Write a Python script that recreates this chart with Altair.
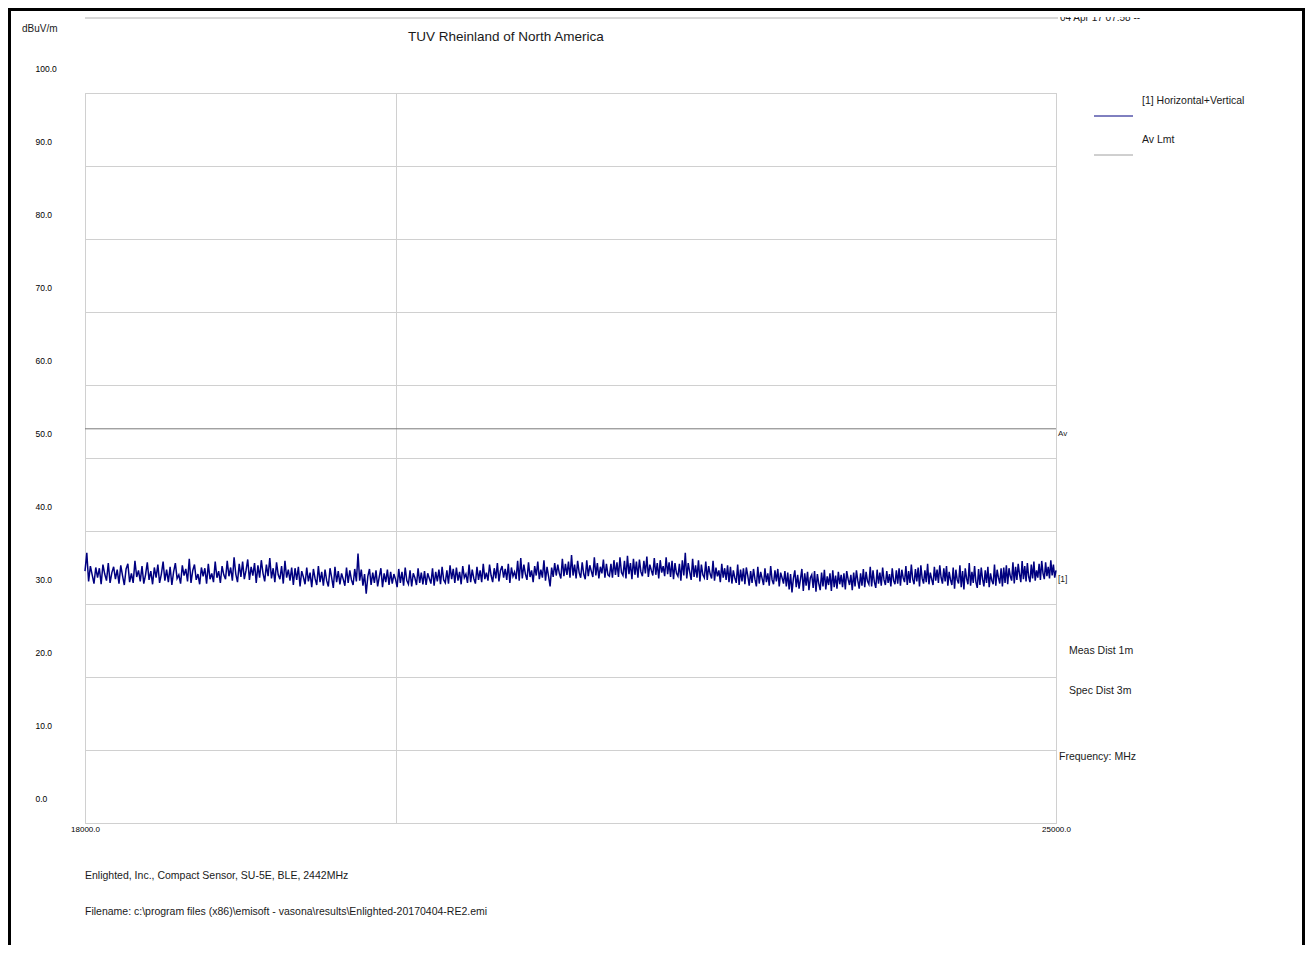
import altair as alt
import numpy as np
import pandas as pd

FONT = "Liberation Sans"

# Measured level of trace [1] (dBuV/m), read across the sweep 18000-25000 MHz
levels = [
    34.5, 37.0, 33.1, 35.2, 34.0, 32.8, 35.0, 33.6, 34.9, 32.7, 35.4, 34.1, 33.2, 35.6, 32.9, 34.3, 35.1, 33.4, 34.7, 32.8,
    35.3, 33.9, 32.6, 34.8, 35.5, 33.0, 34.2, 32.9, 35.9, 33.7, 34.6, 33.1, 35.2, 32.8, 34.0, 35.7, 33.3, 34.5, 32.7, 35.0,
    33.6, 35.4, 32.9, 34.1, 35.8, 33.2, 34.7, 33.0, 35.1, 32.6, 34.4, 35.6, 33.5, 34.0, 32.8, 35.3, 33.9, 34.8, 33.1, 36.2,
    32.9, 34.6, 35.4, 33.3, 34.1, 32.7, 35.0, 33.8, 34.9, 32.8, 35.5, 33.4, 34.2, 33.0, 35.8, 33.6, 34.5, 32.9, 35.2, 34.0,
    33.4, 35.9, 33.8, 35.0, 33.2, 36.4, 34.1, 33.0, 35.5, 33.7, 35.8, 33.4, 34.6, 36.1, 33.3, 35.1, 33.9, 35.6, 32.9, 35.3,
    33.6, 36.0, 34.2, 33.1, 35.4, 33.8, 36.3, 33.5, 34.9, 33.0, 35.7, 34.0, 33.4, 35.2, 32.8, 35.9, 33.6, 34.7, 33.2, 35.0,
    32.6, 34.9, 33.3, 35.1, 32.4, 34.5, 33.7, 32.7, 35.0, 33.1, 34.3, 32.3, 34.8, 33.5, 32.6, 35.2, 33.0, 34.4, 32.5, 34.7,
    33.2, 32.4, 34.9, 33.6, 32.2, 35.1, 33.0, 34.5, 32.7, 34.2, 33.4, 32.5, 35.0, 32.9, 34.6, 33.3, 32.6, 34.8, 33.1, 36.9,
    33.2, 34.7, 32.5, 34.1, 31.4, 33.8, 34.8, 32.6, 34.3, 32.9, 34.6, 32.4, 33.7, 34.9, 32.3, 34.2, 33.0, 34.7, 32.6, 34.4,
    32.8, 34.1, 33.4, 32.3, 34.8, 32.9, 34.4, 32.5, 35.0, 33.2, 32.7, 34.6, 32.4, 34.2, 33.6, 32.6, 34.9, 32.9, 34.3, 32.7,
    34.5, 32.6, 34.2, 33.5, 32.8, 34.9, 32.5, 34.4, 33.1, 34.7, 32.7, 35.1, 33.3, 32.9, 34.6, 32.8, 35.3, 33.4, 34.8, 32.9,
    35.0, 33.2, 34.4, 32.7, 35.2, 33.6, 34.1, 32.9, 35.4, 33.0, 34.7, 33.5, 32.8, 35.1, 33.3, 34.6, 33.0, 35.5, 33.4, 34.3,
    33.2, 35.4, 33.9, 33.0, 34.9, 33.5, 35.6, 33.1, 34.6, 35.2, 33.6, 34.8, 33.3, 35.5, 32.9, 35.0, 33.8, 34.4, 33.4, 35.9,
    33.2, 36.3, 33.5, 35.4, 34.1, 33.3, 35.7, 33.7, 34.6, 33.0, 35.2, 33.9, 35.8, 33.4, 34.7, 33.6, 36.0, 33.2, 35.1, 33.8,
    32.4, 35.0, 33.7, 35.6, 33.9, 35.4, 34.2, 33.5, 36.2, 33.8, 35.5, 34.0, 35.8, 33.6, 36.7, 33.9, 35.4, 33.5, 35.9, 34.3,
    33.6, 35.7, 34.1, 33.4, 36.0, 33.8, 35.3, 34.5, 33.7, 36.4, 33.9, 35.6, 33.5, 35.1, 34.2, 36.1, 33.6, 35.5, 34.0, 33.8,
    35.5, 33.6, 36.0, 34.0, 35.7, 33.7, 36.4, 34.3, 33.9, 35.9, 33.5, 36.6, 34.1, 35.6, 33.4, 36.2, 34.0, 35.8, 33.6, 36.1,
    34.4, 33.8, 35.9, 34.2, 36.5, 33.7, 35.4, 34.6, 33.9, 36.3, 34.0, 35.6, 33.5, 36.0, 34.3, 35.2, 33.8, 36.4, 34.1, 35.7,
    33.7, 35.9, 33.4, 35.6, 34.2, 33.8, 35.5, 33.2, 36.0, 33.9, 37.0, 33.5, 35.6, 34.4, 33.3, 36.2, 33.7, 35.3, 33.6, 36.0,
    33.1, 35.4, 34.0, 33.6, 35.8, 33.3, 35.2, 34.1, 33.5, 35.9, 33.2, 35.0, 33.8, 34.6, 33.0, 35.5, 33.6, 34.9, 33.3, 35.3,
    33.0, 35.1, 32.8, 34.6, 33.6, 32.9, 35.4, 32.6, 34.7, 33.1, 34.9, 32.7, 35.0, 33.9, 32.5, 34.5, 32.9, 34.8, 33.4, 32.4,
    35.1, 32.8, 34.4, 33.5, 32.6, 34.9, 33.0, 34.2, 32.5, 35.2, 33.3, 32.7, 34.6, 33.1, 34.8, 32.4, 34.3, 33.6, 32.8, 34.5,
    32.4, 34.3, 32.0, 34.1, 31.6, 33.5, 34.6, 32.3, 34.0, 32.1, 33.4, 34.8, 31.8, 34.2, 32.5, 34.4, 31.9, 33.6, 34.0, 32.2,
    34.5, 31.7, 34.1, 32.8, 31.9, 34.3, 32.4, 34.7, 32.0, 33.8, 32.6, 34.2, 31.8, 34.6, 32.3, 33.9, 32.1, 34.4, 32.7, 34.0,
    32.3, 34.2, 32.0, 34.5, 33.4, 32.6, 34.0, 31.9, 34.3, 32.4, 34.6, 33.2, 32.1, 34.2, 32.5, 34.8, 32.3, 34.4, 33.1, 32.7,
    35.1, 32.4, 34.6, 33.0, 32.2, 34.7, 32.8, 34.3, 32.5, 35.0, 33.3, 32.6, 34.5, 32.9, 34.1, 32.4, 34.9, 33.2, 32.7, 34.6,
    32.8, 34.9, 32.5, 34.7, 33.6, 33.0, 35.2, 32.6, 34.5, 32.9, 35.4, 33.4, 32.7, 34.8, 33.1, 35.0, 32.4, 35.3, 33.5, 32.8,
    34.6, 33.0, 35.5, 32.7, 34.3, 33.4, 32.6, 35.1, 33.2, 34.7, 32.9, 35.3, 33.6, 32.8, 34.9, 33.1, 35.2, 32.5, 34.4, 33.3,
    32.6, 35.0, 32.1, 34.7, 33.3, 32.8, 35.3, 32.3, 34.5, 32.0, 34.9, 33.5, 32.7, 35.6, 32.5, 34.4, 32.9, 35.2, 33.0, 32.2,
    34.8, 32.6, 35.0, 33.4, 32.4, 34.6, 32.9, 35.1, 32.3, 34.2, 33.2, 32.7, 35.4, 32.5, 34.7, 33.6, 32.8, 34.9, 32.4, 35.0,
    32.9, 35.3, 32.7, 34.9, 33.8, 33.2, 35.7, 32.8, 35.1, 33.3, 35.5, 34.1, 33.0, 35.9, 33.4, 35.2, 33.1, 35.6, 33.7, 33.0,
    35.4, 33.5, 35.8, 33.2, 34.6, 33.6, 35.5, 33.3, 35.9, 34.2, 33.4, 35.7, 33.8, 35.1, 33.5, 36.0, 33.9, 35.4, 33.6, 34.6,
]
freq_start = 18000.0
freq_stop = 25000.0
av_limit = 54.0
y_ticks = [0, 10, 20, 30, 40, 50, 60, 70, 80, 90, 100]
x_ticks = [18000, 20000, 25000]

freqs = np.linspace(freq_start, freq_stop, len(levels))
trace = pd.DataFrame({"freq": freqs, "level": levels})
dummy = pd.DataFrame({"a": [0]})

W, H = 971, 730

x_enc = alt.X(
    "freq:Q",
    scale=alt.Scale(type="log", domain=[freq_start, freq_stop], nice=False),
    axis=alt.Axis(
        values=x_ticks,
        labelExpr="datum.value == 20000 ? '' : format(datum.value, '.1f')",
        labelFlush=False, ticks=False, tickSize=0, domain=False, labelPadding=2,
        labelFontSize=8, labelFont=FONT, labelColor="#000000", title=None,
        grid=True, gridColor="#d0d0d0", labelOverlap=False,
    ),
)
y_enc = alt.Y(
    "level:Q",
    scale=alt.Scale(domain=[0, 100], nice=False, zero=False),
    axis=alt.Axis(
        values=y_ticks,
        labelExpr="format(datum.value, '.1f')",
        labelAlign="left", labelPadding=50, labelOffset=-25,
        ticks=False, tickSize=0, domain=False,
        labelFontSize=8.5, labelFont=FONT, labelColor="#000000", title=None,
        grid=True, gridColor="#d0d0d0", labelOverlap=False,
    ),
)

line = alt.Chart(trace).mark_line(color="#000080", strokeWidth=1.5).encode(x=x_enc, y=y_enc)

av = alt.Chart(dummy).mark_rule(color="#7a7a7a", strokeWidth=1).encode(y=alt.datum(av_limit))


def txt(s, x, y, size=10.5, align="left", baseline="middle", color="#1a1a1a"):
    return alt.Chart(dummy).mark_text(
        text=s, fontSize=size, align=align, baseline=baseline, font=FONT, color=color
    ).encode(x=alt.value(x), y=alt.value(y))


def hline(x1, x2, y, color, width=1.0):
    return alt.Chart(dummy).mark_rule(color=color, strokeWidth=width).encode(
        x=alt.value(x1), x2=alt.value(x2), y=alt.value(y)
    )


def vline(x, y1, y2, color, width=1.0):
    return alt.Chart(dummy).mark_rule(color=color, strokeWidth=width).encode(
        x=alt.value(x), y=alt.value(y1), y2=alt.value(y2)
    )


# page (X, Y) -> plot coords (X-85, Y-93)
layers = [
    line,
    av,
    # clipped date stamp at the top
    txt("04 Apr 17 07:58 --", 975, -72, size=10, baseline="alphabetic"),
    alt.Chart(dummy).mark_rect(color="white").encode(
        x=alt.value(965), x2=alt.value(1080), y=alt.value(-86), y2=alt.value(-76)
    ),
    hline(0, 973, -75, "#b0b0b0"),
    txt("dBuV/m", -63, -64, size=10),
    txt("TUV Rheinland of North America", 323, -56, size=13.5),
    # legend
    txt("[1] Horizontal+Vertical", 1057, 8),
    hline(1009, 1048, 23, "#000080"),
    txt("Av Lmt", 1057, 47),
    hline(1009, 1048, 62, "#a0a0a0"),
    # right side annotations
    txt("Av", 973, 341, size=8),
    txt("[1]", 973, 486, size=8.5),
    txt("Meas Dist 1m", 984, 558),
    txt("Spec Dist 3m", 984, 598),
    txt("Frequency: MHz", 974, 664),
    # footer
    txt("Enlighted, Inc., Compact Sensor, SU-5E, BLE, 2442MHz", 0, 783),
    txt("Filename: c:\\program files (x86)\\emisoft - vasona\\results\\Enlighted-20170404-RE2.emi", 0, 819),
    # page frame
    vline(-75.5, -85, 852, "#000000", 3),
    hline(-77, 1220, -83.5, "#000000", 3),
    vline(1218.5, -85, 852, "#000000", 3),
]

chart = (
    alt.layer(*layers)
    .properties(
        width=W,
        height=H,
        padding={"left": 77, "top": 85, "right": 249, "bottom": 122},
        autosize=alt.AutoSizeParams(type="none"),
        background="white",
    )
    .configure_view(stroke="#c8c8c8", strokeWidth=1)
)

chart.save("out.html", embed_options={"renderer": "svg", "actions": False})
